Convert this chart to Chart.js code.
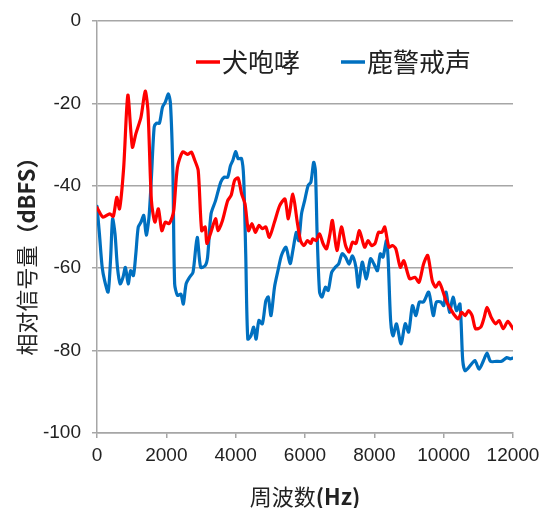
<!DOCTYPE html>
<html>
<head>
<meta charset="utf-8">
<script src="https://cdn.jsdelivr.net/npm/chart.js@4"></script>
<style>
  html, body { margin: 0; padding: 0; background: #fff; }
  canvas { display: block; }
</style>
</head>
<body>
<canvas id="c" width="542" height="508"></canvas>
<script>
// 犬咆哮 (dog bark)
const barkHz = [0, 170, 370, 470, 570, 650, 770, 890, 1020, 1120, 1270, 1390, 1470, 1570, 1670, 1770, 1870, 1970, 2070, 2170, 2220, 2320, 2470, 2620, 2720, 2820, 2920, 3020, 3120, 3170, 3270, 3420, 3490, 3620, 3770, 3870, 3970, 4070, 4170, 4270, 4370, 4470, 4570, 4670, 4770, 4870, 4970, 5120, 5270, 5420, 5520, 5650, 5770, 5870, 5970, 6070, 6170, 6220, 6320, 6420, 6520, 6620, 6720, 6790, 6920, 7050, 7170, 7270, 7370, 7470, 7570, 7720, 7820, 7920, 8020, 8120, 8220, 8300, 8420, 8520, 8620, 8750, 8850, 9020, 9170, 9290, 9420, 9540, 9670, 9770, 9870, 9970, 10070, 10170, 10320, 10420, 10520, 10620, 10720, 10820, 10920, 11070, 11170, 11250, 11370, 11500, 11600, 11720, 11850, 12000];
const barkDb = [-45.3, -47.6, -46.8, -47.4, -42.8, -45.6, -35.5, -18, -30.6, -27.4, -23.3, -17, -21.7, -43.6, -48.8, -45.6, -50.9, -48.8, -49.2, -47.6, -45.6, -35.5, -31.8, -32.4, -31.8, -33.8, -36.3, -50.9, -50, -54, -51.7, -48, -50.9, -48.4, -43.6, -42.3, -38.7, -38.1, -41.9, -44.4, -50.9, -49.2, -51.3, -49.6, -50.4, -50, -52.5, -48.8, -44.8, -43.2, -48, -42, -48.4, -53.3, -54.5, -53.3, -54, -52.9, -53.3, -51.7, -54, -55.3, -51.7, -48.4, -55.7, -50, -54.5, -56.1, -53.7, -54, -50.9, -54.9, -53.3, -54.5, -54, -51.3, -51.3, -50, -54.9, -54.5, -55.3, -59.8, -58.2, -62.6, -62.2, -63.4, -59, -56.9, -63, -64.6, -63.4, -65.4, -67.9, -69.5, -71.5, -72.3, -70.7, -71.5, -70.3, -71.5, -74.7, -74.3, -71.9, -69.5, -71.9, -73.5, -72.7, -74.7, -72.9, -74.7];

// 鹿警戒声 (deer alarm call)
const deerHz = [0, 70, 150, 220, 320, 390, 450, 520, 590, 670, 750, 820, 900, 970, 1050, 1120, 1190, 1270, 1350, 1420, 1500, 1570, 1650, 1720, 1800, 1890, 1970, 2060, 2120, 2190, 2240, 2320, 2420, 2490, 2570, 2670, 2770, 2890, 2990, 3120, 3190, 3290, 3420, 3570, 3670, 3770, 3850, 3920, 4000, 4070, 4170, 4230, 4290, 4350, 4440, 4520, 4590, 4670, 4770, 4870, 4940, 5020, 5120, 5220, 5320, 5450, 5570, 5650, 5750, 5820, 5900, 5990, 6090, 6170, 6250, 6300, 6350, 6420, 6490, 6590, 6670, 6770, 6870, 6970, 7070, 7170, 7270, 7370, 7470, 7540, 7650, 7770, 7890, 7990, 8090, 8170, 8250, 8350, 8400, 8470, 8540, 8640, 8770, 8890, 8990, 9100, 9200, 9300, 9420, 9570, 9700, 9790, 9920, 10000, 10070, 10170, 10270, 10370, 10470, 10550, 10620, 10770, 10900, 11020, 11150, 11250, 11350, 11520, 11670, 11820, 11920, 12000];
const deerDb = [-45, -51.7, -59.8, -63, -65.8, -58.1, -48, -51.7, -59.8, -63.8, -62.2, -59.8, -63.8, -60.6, -61.8, -56.5, -50, -48.8, -47.2, -52, -47.6, -37.9, -25.7, -24.8, -24.8, -20.9, -19.7, -17.7, -20.1, -37.1, -63.8, -66.6, -66.3, -68.7, -63.8, -62.2, -61, -52.5, -59.8, -59.4, -57.3, -46.8, -43.6, -39.1, -37.9, -37.9, -35.1, -33.8, -31.7, -33.4, -33.4, -37.9, -56.5, -77.2, -76.4, -74.3, -77.2, -72.7, -73.5, -67.9, -67, -71.5, -64.6, -60.6, -56.9, -54.9, -58.9, -55.7, -51.3, -53.3, -46.8, -43.6, -39.9, -39.1, -34.3, -36.3, -51.7, -65.8, -67, -64.6, -65.4, -61, -59.8, -59, -56.5, -57.3, -59, -57, -59.8, -64.6, -58.5, -62.6, -57.7, -59, -60.6, -56.5, -57.3, -53.3, -58.1, -72.7, -76.4, -73.5, -78.4, -73.5, -75.5, -69.1, -71.5, -68.2, -68.2, -65.8, -71.5, -68.2, -68.2, -69.1, -65.8, -70.7, -67, -70.3, -68.7, -82.4, -84.9, -83.6, -82.4, -84.5, -82.4, -80.6, -82.6, -82.6, -82.6, -81.7, -82, -81.8];

const seriesNames = ['犬咆哮', '鹿警戒声'];
const seriesColors = ['#ff0000', '#0070c0'];

const xTitle = [['周波数', 'normal'], ['(Hz)', 'bold']];
const yTitle = [['相对信号量', 'normal'], ['（dBFS）', 'bold']];

const textColor = '#222222';
const gridColor = '#a6a6a6';
const fontFamily = '"Liberation Sans", Arial, sans-serif';
const cjkFamily = '"Noto Sans CJK SC", "Liberation Sans", sans-serif';

const toPoints = (xs, ys) => xs.map((x, i) => ({ x, y: ys[i] }));

function drawSegments(ctx, segs, size) {
  // measure then draw a mixed-weight string centred on 0,0
  const widths = segs.map(([t, w]) => {
    ctx.font = `${w} ${size}px ${cjkFamily}`;
    return ctx.measureText(t).width;
  });
  const total = widths.reduce((a, b) => a + b, 0);
  let x = -total / 2;
  segs.forEach(([t, w], i) => {
    ctx.font = `${w} ${size}px ${cjkFamily}`;
    ctx.fillText(t, x, 0);
    x += widths[i];
  });
}

const decorations = {
  id: 'decorations',
  afterDraw(chart) {
    const { ctx, chartArea } = chart;
    ctx.save();
    ctx.fillStyle = textColor;
    ctx.textBaseline = 'middle';
    ctx.textAlign = 'left';

    // x title
    ctx.save();
    ctx.translate((chartArea.left + chartArea.right) / 2, 497);
    drawSegments(ctx, xTitle, 22);
    ctx.restore();

    // y title
    ctx.save();
    ctx.translate(27, 251);
    ctx.rotate(-Math.PI / 2);
    drawSegments(ctx, yTitle, 22);
    ctx.restore();

    // legend, inside the plot area
    const starts = [196, 341];
    chart.data.datasets.forEach((ds, i) => {
      const x0 = starts[i];
      const y0 = 62;
      ctx.strokeStyle = ds.borderColor;
      ctx.lineWidth = 3.5;
      ctx.beginPath();
      ctx.moveTo(x0, y0);
      ctx.lineTo(x0 + 24, y0);
      ctx.stroke();
      ctx.font = `normal 26px ${cjkFamily}`;
      ctx.fillStyle = textColor;
      ctx.fillText(ds.label, x0 + 26, y0);
    });
    ctx.restore();
  },
};

new Chart(document.getElementById('c'), {
  type: 'line',
  data: {
    datasets: [
      {
        label: seriesNames[0],
        data: toPoints(barkHz, barkDb),
        borderColor: seriesColors[0],
      },
      {
        label: seriesNames[1],
        data: toPoints(deerHz, deerDb),
        borderColor: seriesColors[1],
      },
    ],
  },
  options: {
    responsive: false,
    animation: false,
    layout: { padding: { top: 21, right: 29, left: 0, bottom: 0 } },
    elements: {
      point: { radius: 0 },
      line: { borderWidth: 3.2, tension: 0.25, borderJoinStyle: 'round', borderCapStyle: 'round', fill: false },
    },
    plugins: {
      legend: { display: false },
      tooltip: { enabled: false },
    },
    scales: {
      x: {
        type: 'linear',
        min: 0,
        max: 12000,
        afterFit: (s) => { s.height = 75; s.paddingRight = 0; s.paddingLeft = 0; },
        ticks: { stepSize: 2000, color: textColor, font: { family: fontFamily, size: 19 }, padding: 6, maxRotation: 0, callback: (v) => String(v) },
        grid: { drawOnChartArea: false, drawTicks: true, tickLength: 5, color: gridColor, lineWidth: 1.5 },
        border: { color: gridColor, width: 1.5 },
      },
      y: {
        min: -100,
        max: 0,
        afterFit: (s) => { s.width = 97; s.paddingTop = 0; s.paddingBottom = 0; },
        ticks: { stepSize: 20, color: textColor, font: { family: fontFamily, size: 19 }, padding: 11, callback: (v) => String(v) },
        grid: { color: gridColor, lineWidth: 1.5, tickLength: 5 },
        border: { color: gridColor, width: 1.5 },
      },
    },
  },
  plugins: [decorations],
});
</script>
</body>
</html>
